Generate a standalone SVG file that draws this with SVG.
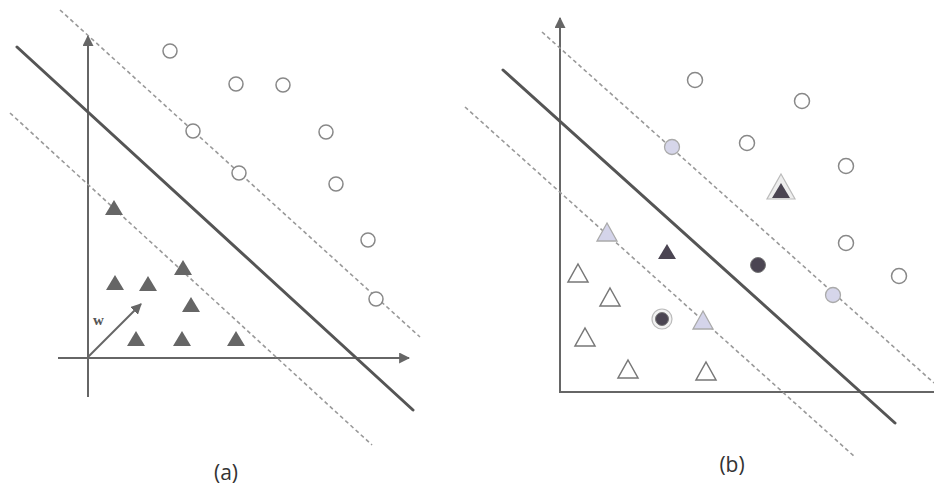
<svg xmlns="http://www.w3.org/2000/svg" width="934" height="491" viewBox="0 0 934 491">
<defs>
<style>
.axis{stroke:#666;stroke-width:2;fill:none}
.sep{stroke:#555;stroke-width:3;fill:none;stroke-linecap:round}
.dash{stroke:#999;stroke-width:1.6;fill:none;stroke-dasharray:4 3}
.oc{fill:#fff;stroke:#888;stroke-width:1.5}
.lc{fill:#d6d6ea;stroke:#aaa;stroke-width:1.3}
.dc{fill:#4b4552;stroke:#777;stroke-width:1}
.ft{fill:#666;stroke:none}
.ot{fill:#fff;stroke:#777;stroke-width:1.5;stroke-linejoin:miter}
.lt{fill:#d4d4ea;stroke:#aaa;stroke-width:1.3}
.dt{fill:#4b4552;stroke:none}
.lbl{font-family:"Open Sans","Liberation Sans",sans-serif;font-size:21px;fill:#333;text-anchor:middle}
.w{font-family:"Liberation Serif",serif;font-size:15px;font-weight:bold;fill:#555}
</style>
<marker id="ah" viewBox="0 0 10 10" refX="9" refY="5" markerWidth="5.5" markerHeight="5.5" orient="auto" markerUnits="strokeWidth">
<path d="M0,0 L10,5 L0,10 z" fill="#666"/>
</marker>
<path id="tri" d="M0,-9 L9,6 L-9,6 z"/>
<path id="otri" d="M0,-10 L10,8 L-10,8 z"/>
</defs>
<rect width="934" height="491" fill="#fff"/>
<g id="connectors">
<line class="axis" x1="88" y1="397" x2="88" y2="36" marker-end="url(#ah)"/>
<line class="axis" x1="58" y1="358" x2="409" y2="358" marker-end="url(#ah)"/>
<line class="dash" x1="60" y1="10" x2="420" y2="337"/>
<line class="dash" x1="10" y1="113" x2="372" y2="445"/>
<line class="sep" x1="17" y1="47" x2="413" y2="410"/>
<line class="axis" x1="88" y1="357" x2="141" y2="304" marker-end="url(#ah)"/>
<line class="axis" x1="560" y1="392" x2="560" y2="18" marker-end="url(#ah)"/>
<line class="axis" x1="559" y1="392" x2="934" y2="392"/>
<line class="dash" x1="542" y1="32" x2="934" y2="383"/>
<line class="dash" x1="465" y1="107" x2="855" y2="457"/>
<line class="sep" x1="503" y1="70" x2="895" y2="423"/>
</g>
<g id="panel-a">
<g id="a-circles">
<circle class="oc" cx="170" cy="51" r="7"/>
<circle class="oc" cx="236" cy="84" r="7"/>
<circle class="oc" cx="283" cy="85" r="7"/>
<circle class="oc" cx="193" cy="131" r="7"/>
<circle class="oc" cx="326" cy="132" r="7"/>
<circle class="oc" cx="239" cy="173" r="7"/>
<circle class="oc" cx="336" cy="184" r="7"/>
<circle class="oc" cx="368" cy="240" r="7"/>
<circle class="oc" cx="376" cy="299" r="7"/>
</g>
<g id="a-triangles">
<use href="#tri" class="ft" x="114" y="209"/>
<use href="#tri" class="ft" x="115" y="284"/>
<use href="#tri" class="ft" x="148" y="285"/>
<use href="#tri" class="ft" x="183" y="269"/>
<use href="#tri" class="ft" x="191" y="306"/>
<use href="#tri" class="ft" x="136" y="340"/>
<use href="#tri" class="ft" x="182" y="340"/>
<use href="#tri" class="ft" x="236" y="340"/>
</g>
<text class="w" x="93" y="325">w</text>
<text id="label-a" class="lbl" x="226" y="480">(a)</text>
</g>
<g id="panel-b">
<g id="b-circles">
<circle class="oc" cx="695" cy="80" r="7.5"/>
<circle class="oc" cx="802" cy="101" r="7.5"/>
<circle class="oc" cx="747" cy="143" r="7.5"/>
<circle class="oc" cx="846" cy="166" r="7.5"/>
<circle class="oc" cx="846" cy="243" r="7.5"/>
<circle class="oc" cx="899" cy="276" r="7.5"/>
<circle class="lc" cx="672" cy="147" r="7.5"/>
<circle class="lc" cx="833" cy="295" r="7.5"/>
<circle class="dc" cx="758" cy="265" r="7.5"/>
<circle cx="662" cy="319" r="10" fill="#f2f2f2" stroke="#bbb" stroke-width="1.2"/>
<circle class="dc" cx="662" cy="319" r="6.5"/>
</g>
<g id="b-triangles">
<path d="M781,174 L795,199 L767,199 z" fill="#eee" stroke="#bbb" stroke-width="1.2"/>
<use href="#tri" class="dt" x="781" y="192"/>
<use href="#tri" class="dt" x="667" y="253"/>
<use href="#otri" class="lt" x="607" y="233"/>
<use href="#otri" class="lt" x="703" y="321"/>
<use href="#otri" class="ot" x="578" y="274"/>
<use href="#otri" class="ot" x="610" y="298"/>
<use href="#otri" class="ot" x="585" y="338"/>
<use href="#otri" class="ot" x="628" y="370"/>
<use href="#otri" class="ot" x="706" y="372"/>
</g>
<text id="label-b" class="lbl" x="732" y="472">(b)</text>
</g>
</svg>
